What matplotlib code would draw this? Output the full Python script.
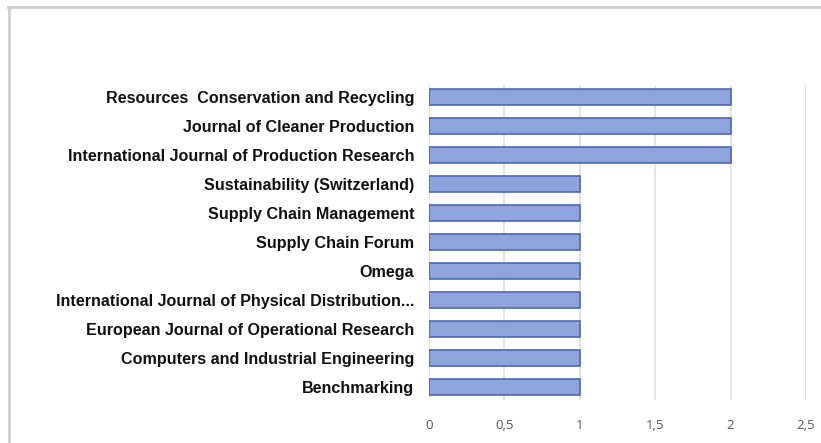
import numpy as np
import matplotlib.pyplot as plt
from matplotlib.lines import Line2D

journals = [
    "Resources  Conservation and Recycling",
    "Journal of Cleaner Production",
    "International Journal of Production Research",
    "Sustainability (Switzerland)",
    "Supply Chain Management",
    "Supply Chain Forum",
    "Omega",
    "International Journal of Physical Distribution...",
    "European Journal of Operational Research",
    "Computers and Industrial Engineering",
    "Benchmarking",
]
counts = [2, 2, 2, 1, 1, 1, 1, 1, 1, 1, 1]
xticks = [0, 0.5, 1, 1.5, 2, 2.5]
xticklabels = ["0", "0,5", "1", "1,5", "2", "2,5"]

fig = plt.figure(figsize=(8.21, 4.43), dpi=100)
ax = fig.add_axes([0.5225, 0.097, 0.9817 - 0.5225, 0.711])

y = np.arange(len(journals))[::-1]
ax.barh(y, counts, height=0.55, color="#8FA4DD", edgecolor="#4A68B5",
        linewidth=1.2, zorder=3)

ax.set_xlim(0, 2.5)
ax.set_ylim(-0.45, 10.41)
ax.set_xticks(xticks)
ax.set_xticklabels(xticklabels, color="#595959", fontsize=9.5,
                   family="Open Sans")
ax.set_yticks(y)
ax.set_yticklabels(journals, fontsize=11.6, fontweight="bold",
                   family="Liberation Sans", color="#111111")
ax.tick_params(axis="x", length=0, pad=14)
ax.tick_params(axis="y", length=0, pad=10.5)
ax.grid(axis="x", color="#E0E0E0", linewidth=1.2, zorder=0)
for s in ax.spines.values():
    s.set_visible(False)

# outer chart frame (top and left edges visible)
fig.add_artist(Line2D([8 / 821, 1], [1 - 7 / 443, 1 - 7 / 443],
                      color="#D0D0D0", linewidth=2, transform=fig.transFigure))
fig.add_artist(Line2D([9 / 821, 9 / 821], [0, 1 - 7 / 443],
                      color="#D0D0D0", linewidth=2, transform=fig.transFigure))

fig.savefig("out.png", dpi=100)
